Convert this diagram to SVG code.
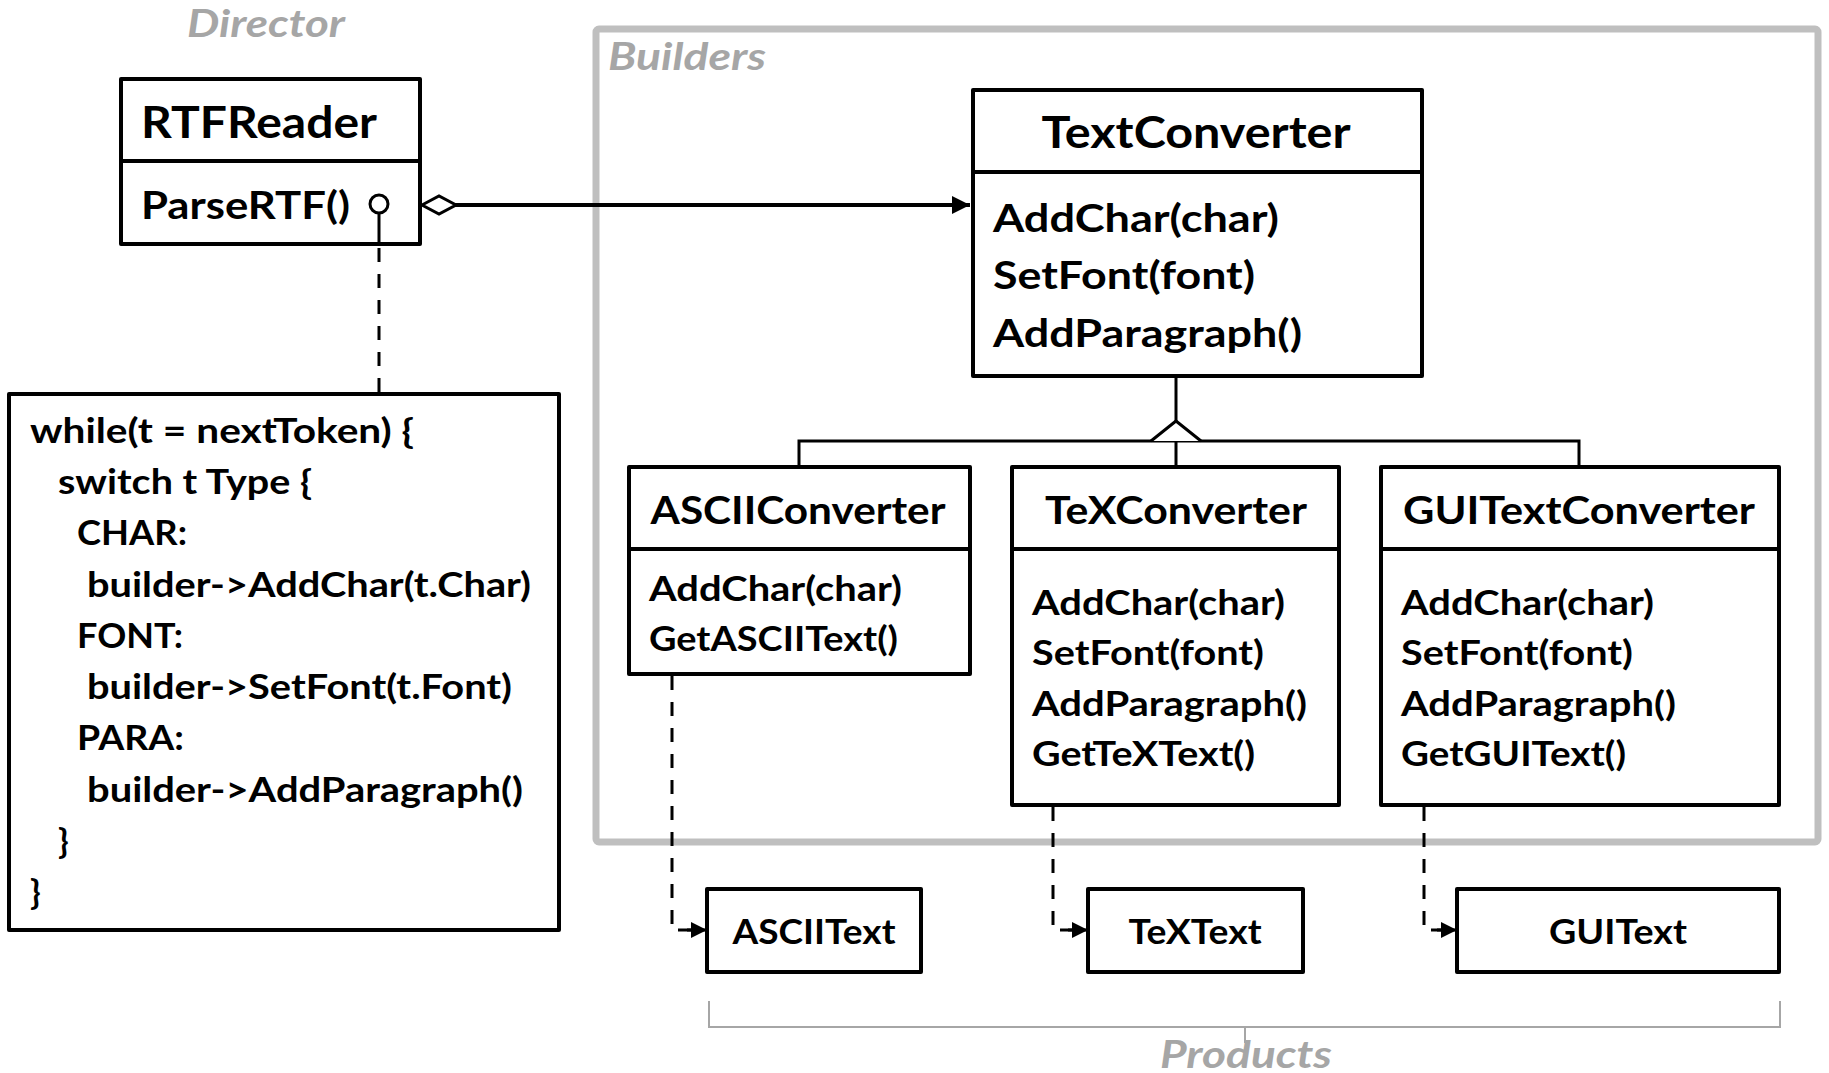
<svg xmlns="http://www.w3.org/2000/svg" width="1829" height="1073" viewBox="0 0 1829 1073">
  <style>
    text { font-family: Lato, "Open Sans", sans-serif; font-weight: bold; fill: #000; }
    .box { fill: #fff; stroke: #000; stroke-width: 4; stroke-linejoin: round; }
    .sep { stroke: #000; stroke-width: 4; }
    .group-label { font-style: italic; fill: #a6a6a6; font-size: 38px; }
    .title { font-size: 43px; }
    .method { font-size: 39px; }
    .sub-title { font-size: 38px; text-anchor: middle; }
    .sub-method { font-size: 34px; }
    .code { font-size: 35px; }
    .product { font-size: 34px; text-anchor: middle; }
    .solid { fill: none; stroke: #000; stroke-width: 4; }
    .thin { fill: none; stroke: #000; stroke-width: 3; }
    .dashed { fill: none; stroke: #000; stroke-width: 3; stroke-dasharray: 14 12; }
  </style>
  <defs>
    <marker id="arrow" markerUnits="userSpaceOnUse" markerWidth="20" markerHeight="20" refX="18" refY="9" orient="auto">
      <path d="M0,0 L18,9 L0,18 Z" fill="#000"/>
    </marker>
    <marker id="arrow-small" markerUnits="userSpaceOnUse" markerWidth="18" markerHeight="18" refX="16" refY="8" orient="auto">
      <path d="M0,0 L16,8 L0,16 Z" fill="#000"/>
    </marker>
  </defs>

  <!-- grouping frames and their captions -->
  <g id="frames">
    <rect x="596" y="29" width="1222" height="813" rx="3" fill="none" stroke="#bfbfbf" stroke-width="7"/>
    <text class="group-label" x="187" y="37" textLength="158" lengthAdjust="spacingAndGlyphs">Director</text>
    <text class="group-label" x="608" y="70" textLength="158" lengthAdjust="spacingAndGlyphs">Builders</text>
    <path d="M709,1001 V1027 H1780 V1001 M1245,1027 V1043" fill="none" stroke="#a6a6a6" stroke-width="2"/>
    <text class="group-label" x="1160" y="1068" textLength="172" lengthAdjust="spacingAndGlyphs">Products</text>
  </g>

  <g id="RTFReader">
    <rect class="box" x="121" y="79" width="299" height="165"/>
    <line class="sep" x1="121" y1="161" x2="420" y2="161"/>
    <text class="title" x="141" y="138" textLength="236" lengthAdjust="spacingAndGlyphs">RTFReader</text>
    <text class="method" x="141" y="219" textLength="209" lengthAdjust="spacingAndGlyphs">ParseRTF()</text>
  </g>

  <g id="ParseRTF-note">
    <rect class="box" x="9" y="394" width="550" height="536"/>
    <text class="code" x="30" y="443" textLength="384" lengthAdjust="spacingAndGlyphs">while(t = nextToken) {</text>
    <text class="code" x="58" y="494" textLength="254" lengthAdjust="spacingAndGlyphs">switch t Type {</text>
    <text class="code" x="77" y="545" textLength="110" lengthAdjust="spacingAndGlyphs">CHAR:</text>
    <text class="code" x="87" y="597" textLength="444" lengthAdjust="spacingAndGlyphs">builder-&gt;AddChar(t.Char)</text>
    <text class="code" x="77" y="648" textLength="106" lengthAdjust="spacingAndGlyphs">FONT:</text>
    <text class="code" x="87" y="699" textLength="425" lengthAdjust="spacingAndGlyphs">builder-&gt;SetFont(t.Font)</text>
    <text class="code" x="77" y="750" textLength="107" lengthAdjust="spacingAndGlyphs">PARA:</text>
    <text class="code" x="87" y="802" textLength="436" lengthAdjust="spacingAndGlyphs">builder-&gt;AddParagraph()</text>
    <text class="code" x="58" y="853">}</text>
    <text class="code" x="30" y="904">}</text>
  </g>

  <g id="TextConverter">
    <rect class="box" x="973" y="90" width="449" height="286"/>
    <line class="sep" x1="973" y1="172" x2="1422" y2="172"/>
    <text class="title" x="1196" y="148" text-anchor="middle" textLength="309" lengthAdjust="spacingAndGlyphs">TextConverter</text>
    <text class="method" x="993" y="232" textLength="286" lengthAdjust="spacingAndGlyphs">AddChar(char)</text>
    <text class="method" x="993" y="289" textLength="262" lengthAdjust="spacingAndGlyphs">SetFont(font)</text>
    <text class="method" x="993" y="347" textLength="309" lengthAdjust="spacingAndGlyphs">AddParagraph()</text>
  </g>

  <g id="ASCIIConverter">
    <rect class="box" x="629" y="467" width="341" height="207"/>
    <line class="sep" x1="629" y1="549" x2="970" y2="549"/>
    <text class="sub-title" x="798" y="524" textLength="295" lengthAdjust="spacingAndGlyphs">ASCIIConverter</text>
    <text class="sub-method" x="649" y="601" textLength="253" lengthAdjust="spacingAndGlyphs">AddChar(char)</text>
    <text class="sub-method" x="649" y="651" textLength="249" lengthAdjust="spacingAndGlyphs">GetASCIIText()</text>
  </g>

  <g id="TeXConverter">
    <rect class="box" x="1012" y="467" width="327" height="338"/>
    <line class="sep" x1="1012" y1="549" x2="1339" y2="549"/>
    <text class="sub-title" x="1176" y="524" textLength="262" lengthAdjust="spacingAndGlyphs">TeXConverter</text>
    <text class="sub-method" x="1032" y="615" textLength="253" lengthAdjust="spacingAndGlyphs">AddChar(char)</text>
    <text class="sub-method" x="1032" y="665" textLength="232" lengthAdjust="spacingAndGlyphs">SetFont(font)</text>
    <text class="sub-method" x="1032" y="716" textLength="275" lengthAdjust="spacingAndGlyphs">AddParagraph()</text>
    <text class="sub-method" x="1032" y="766" textLength="223" lengthAdjust="spacingAndGlyphs">GetTeXText()</text>
  </g>

  <g id="GUITextConverter">
    <rect class="box" x="1381" y="467" width="398" height="338"/>
    <line class="sep" x1="1381" y1="549" x2="1779" y2="549"/>
    <text class="sub-title" x="1579" y="524" textLength="352" lengthAdjust="spacingAndGlyphs">GUITextConverter</text>
    <text class="sub-method" x="1401" y="615" textLength="253" lengthAdjust="spacingAndGlyphs">AddChar(char)</text>
    <text class="sub-method" x="1401" y="665" textLength="232" lengthAdjust="spacingAndGlyphs">SetFont(font)</text>
    <text class="sub-method" x="1401" y="716" textLength="275" lengthAdjust="spacingAndGlyphs">AddParagraph()</text>
    <text class="sub-method" x="1401" y="766" textLength="225" lengthAdjust="spacingAndGlyphs">GetGUIText()</text>
  </g>

  <g id="ASCIIText">
    <rect class="box" x="707" y="889" width="214" height="83"/>
    <text class="product" x="814" y="944" textLength="163" lengthAdjust="spacingAndGlyphs">ASCIIText</text>
  </g>

  <g id="TeXText">
    <rect class="box" x="1088" y="889" width="215" height="83"/>
    <text class="product" x="1195" y="944" textLength="133" lengthAdjust="spacingAndGlyphs">TeXText</text>
  </g>

  <g id="GUIText">
    <rect class="box" x="1457" y="889" width="322" height="83"/>
    <text class="product" x="1618" y="944" textLength="138" lengthAdjust="spacingAndGlyphs">GUIText</text>
  </g>

  <!-- connectors -->
  <g id="connectors">
    <!-- RTFReader aggregates TextConverter -->
    <path class="solid" d="M455,205 H970" marker-end="url(#arrow)"/>
    <polygon points="422,205 439,196 456,205 439,214" fill="#fff" stroke="#000" stroke-width="3"/>
    <!-- ParseRTF note link -->
    <circle cx="379" cy="204" r="9" fill="#fff" stroke="#000" stroke-width="3"/>
    <path class="thin" d="M379,213 V245"/>
    <path class="dashed" d="M379,248 V392"/>
    <!-- inheritance tree -->
    <path class="thin" d="M1176,378 V421"/>
    <path class="thin" d="M799,465 V441 H1579 V465 M1176,441 V465"/>
    <polyline points="1151,441 1176,421 1201,441" fill="#fff" stroke="#000" stroke-width="3"/>
    <!-- creates products -->
    <path class="dashed" d="M672,676 V930 H691"/>
    <path class="thin" d="M687,930 H707" marker-end="url(#arrow-small)"/>
    <path class="dashed" d="M1053,807 V930 H1072"/>
    <path class="thin" d="M1068,930 H1088" marker-end="url(#arrow-small)"/>
    <path class="dashed" d="M1424,807 V930 H1441"/>
    <path class="thin" d="M1437,930 H1457" marker-end="url(#arrow-small)"/>
  </g>
</svg>
